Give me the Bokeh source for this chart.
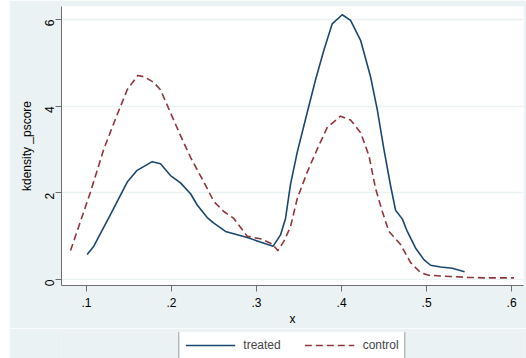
from bokeh.plotting import figure
from bokeh.models import Legend, LegendItem, FixedTicker, Spacer
from bokeh.layouts import row, column
from bokeh.embed import file_html
from bokeh.resources import INLINE
import math

# Treated kernel density (x, density)
treated_x = [0.1008, 0.1086, 0.128, 0.1479, 0.1596, 0.1773, 0.187, 0.1988, 0.2106,
             0.2224, 0.2302, 0.242, 0.2498, 0.2635, 0.289, 0.3086, 0.3196, 0.3282,
             0.3341, 0.34, 0.3479, 0.3576, 0.3694, 0.3792, 0.389, 0.4008, 0.4106,
             0.4224, 0.4341, 0.442, 0.4498, 0.4576, 0.4635, 0.4714, 0.4773, 0.487,
             0.4968, 0.5047, 0.5165, 0.5302, 0.5447]
treated_y = [0.58, 0.77, 1.49, 2.25, 2.52, 2.72, 2.67, 2.40, 2.23,
             1.98, 1.72, 1.43, 1.30, 1.11, 0.97, 0.84, 0.77, 1.03,
             1.41, 2.20, 2.94, 3.70, 4.61, 5.29, 5.90, 6.11, 5.98,
             5.52, 4.68, 3.92, 3.01, 2.17, 1.60, 1.40, 1.11, 0.73,
             0.46, 0.33, 0.29, 0.26, 0.18]

# Control kernel density (x, density)
control_x = [0.0812, 0.087, 0.1047, 0.1204, 0.134, 0.1479, 0.1604, 0.1675, 0.179,
             0.187, 0.1988, 0.2106, 0.2224, 0.238, 0.2498, 0.2615, 0.2733, 0.289,
             0.3047, 0.3185, 0.3251, 0.3321, 0.34, 0.3479, 0.3596, 0.3714, 0.3832,
             0.3988, 0.4106, 0.4224, 0.4322, 0.44, 0.4479, 0.4557, 0.4694, 0.4812,
             0.4929, 0.5027, 0.5282, 0.5479, 0.5675, 0.6028]
control_y = [0.67, 1.00, 2.02, 3.01, 3.70, 4.38, 4.71, 4.68, 4.55,
             4.38, 3.85, 3.32, 2.82, 2.25, 1.80, 1.57, 1.41, 1.00,
             0.94, 0.82, 0.67, 0.88, 1.22, 1.87, 2.48, 3.01, 3.51,
             3.77, 3.68, 3.39, 2.86, 2.10, 1.57, 1.11, 0.81, 0.39,
             0.16, 0.10, 0.07, 0.05, 0.04, 0.04]

x_ticks = [0.1, 0.2, 0.3, 0.4, 0.5, 0.6]
x_tick_labels = [".1", ".2", ".3", ".4", ".5", ".6"]
y_ticks = [0, 2, 4, 6]
series_names = ["treated", "control"]

BG = "#EAF2F3"
NAVY = "#1a476f"
MAROON = "#90353b"
FONT = "Liberation Sans"

p = figure(width=517, height=328, output_backend="svg", toolbar_location=None,
           x_range=(0.0706, 0.614), y_range=(-0.137, 6.30),
           min_border_left=52, min_border_right=3, min_border_top=6, min_border_bottom=40)
p.background_fill_color = "white"
p.border_fill_color = BG
p.outline_line_color = None

r1 = p.line(treated_x, treated_y, line_color=NAVY, line_width=1.6, line_join="round")
r2 = p.line(control_x, control_y, line_color=MAROON, line_width=1.6, line_dash="7 4",
            line_join="round")

p.xgrid.grid_line_color = None
p.ygrid.grid_line_color = BG
p.ygrid.grid_line_width = 1.5
p.ygrid.ticker = FixedTicker(ticks=y_ticks)

p.xaxis.ticker = FixedTicker(ticks=x_ticks)
p.xaxis.major_label_overrides = {t: l for t, l in zip(x_ticks, x_tick_labels)}
p.yaxis.ticker = FixedTicker(ticks=y_ticks)
p.yaxis.major_label_orientation = math.pi / 2

for ax in (p.xaxis, p.yaxis):
    ax.axis_line_color = "#6e6e6e"
    ax.axis_line_width = 1
    ax.major_tick_line_color = "#6e6e6e"
    ax.major_tick_out = 6
    ax.major_tick_in = 0
    ax.minor_tick_line_color = None
    ax.major_label_text_font = FONT
    ax.major_label_text_font_size = "12px"
    ax.major_label_text_color = "black"
    ax.axis_label_text_font = FONT
    ax.axis_label_text_font_size = "12px"
    ax.axis_label_text_font_style = "normal"
    ax.axis_label_text_color = "black"

p.xaxis.axis_label = "x"
p.yaxis.axis_label = "kdensity _pscore"
p.xaxis.major_label_standoff = 6
p.xaxis.axis_label_standoff = 2
p.yaxis.major_label_standoff = 6
p.yaxis.axis_label_standoff = 4

# Legend strip below the plot (separate figure so the box is not clipped)
q = figure(width=517, height=30, output_backend="svg", toolbar_location=None,
           x_axis_location=None, y_axis_location=None,
           min_border_left=52, min_border_right=3, min_border_top=4, min_border_bottom=0,
           x_range=(0, 1), y_range=(0, 1))
q.background_fill_color = BG
q.border_fill_color = BG
q.outline_line_color = None
q.xgrid.grid_line_color = None
q.ygrid.grid_line_color = None
# invisible (out of range) renderers that only supply the legend glyph styles
d1 = q.line([10, 11], [10, 11], line_color=NAVY, line_width=1.6)
d2 = q.line([10, 11], [10, 11], line_color=MAROON, line_width=1.6, line_dash="7 4")

legend = Legend(items=[LegendItem(label=series_names[0], renderers=[d1]),
                       LegendItem(label=series_names[1], renderers=[d2])],
                orientation="horizontal", location="center")
legend.background_fill_color = "white"
legend.background_fill_alpha = 1
legend.border_line_color = "#333333"
legend.border_line_width = 1
legend.label_text_font = FONT
legend.label_text_font_size = "12px"
legend.glyph_width = 50
legend.glyph_height = 12
legend.label_standoff = 8
legend.spacing = 24
legend.padding = 6
legend.margin = 0
q.add_layout(legend)

layout = row(Spacer(width=9, height=358, background="white"), column(p, q))

open("out.html", "w").write(file_html(layout, INLINE))
